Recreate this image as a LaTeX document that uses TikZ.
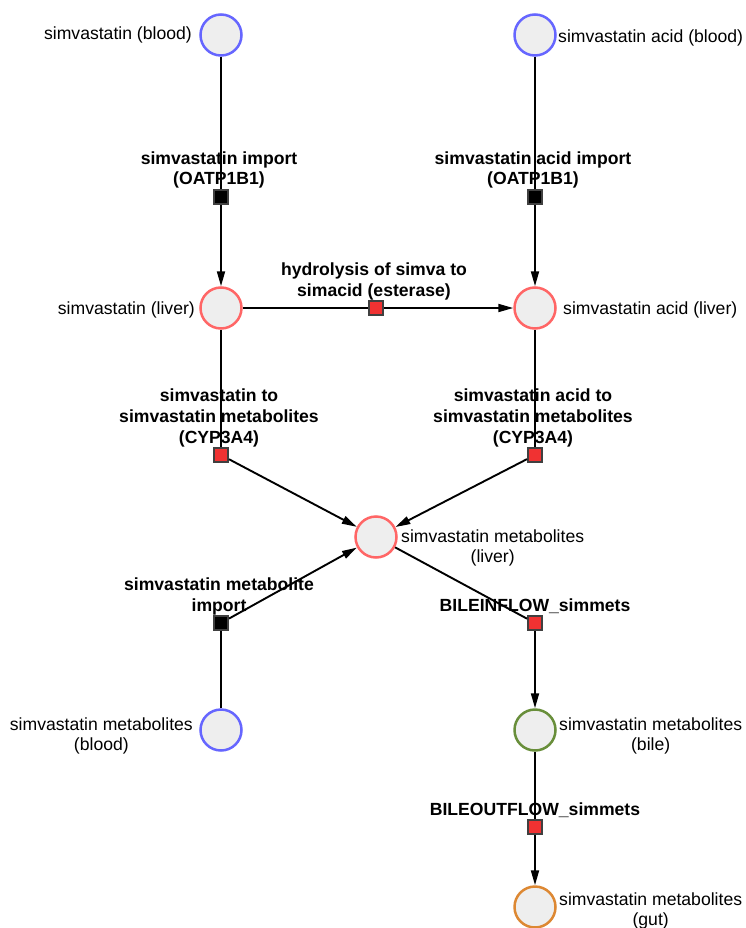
\documentclass[tikz,border=0pt]{standalone}
\usepackage{fontspec}
\setmainfont{Liberation Sans}
\usetikzlibrary{arrows.meta}
\definecolor{cfill}{RGB}{238,238,238}
\definecolor{cblue}{RGB}{102,102,255}
\definecolor{cred}{RGB}{255,102,102}
\definecolor{cgreen}{RGB}{104,142,58}
\definecolor{corange}{RGB}{221,136,51}
\definecolor{cborder}{RGB}{64,64,64}
\definecolor{cred2}{RGB}{240,50,50}
\begin{document}
\begin{tikzpicture}[x=1pt,y=-1pt,
  species/.style={circle, draw, line width=2.5pt, fill=cfill, minimum size=41pt, inner sep=0pt},
  rxn/.style={rectangle, draw=cborder, line width=2pt, minimum size=14pt, inner sep=0pt},
  lbl/.style={font=\fontsize{17.6}{20.8}\selectfont, inner sep=0pt, align=center},
  rlbl/.style={font=\bfseries\fontsize{17.6}{20.8}\selectfont, inner sep=0pt, align=center, anchor=base},
  edge/.style={line width=1.9pt},
  arr/.style={line width=1.9pt, -{Triangle[length=15pt,width=8pt]}}]
\useasboundingbox (0,0) rectangle (746,928);
\fill[white] (0,0) rectangle (746,928);

% species
\node[species, draw=cblue] (sb) at (221,35) {};
\node[species, draw=cblue] (sab) at (535,35) {};
\node[species, draw=cred] (sl) at (221,308) {};
\node[species, draw=cred] (sal) at (535,308) {};
\node[species, draw=cred] (ml) at (376,537) {};
\node[species, draw=cblue] (mb) at (221,730) {};
\node[species, draw=cgreen] (mbile) at (535,730) {};
\node[species, draw=corange] (mgut) at (535,907) {};

% species labels
\node[lbl, anchor=base east] (tsb) at (192,40) {simvastatin (blood)};
\node[lbl, anchor=base west] (tsab) at (558,43) {simvastatin acid (blood)};
\node[lbl, anchor=base east] (tsl) at (195,314) {simvastatin (liver)};
\node[lbl, anchor=base west] (tsal) at (563,314) {simvastatin acid (liver)};
\node[lbl, anchor=base west] (tml) at (401,562.8) {simvastatin metabolites\\(liver)};
\node[lbl, anchor=base east] (tmb) at (193,750.8) {simvastatin metabolites\\(blood)};
\node[lbl, anchor=base west] (tmbile) at (559,750.8) {simvastatin metabolites\\(bile)};
\node[lbl, anchor=base west] (tmgut) at (559,925.8) {simvastatin metabolites\\(gut)};

% reactions
\node[rxn, fill=black] (r1) at (221,197) {};
\node[rxn, fill=black] (r2) at (535,197) {};
\node[rxn, fill=cred2] (r3) at (376,308) {};
\node[rxn, fill=cred2] (r4) at (221,455) {};
\node[rxn, fill=cred2] (r5) at (535,455) {};
\node[rxn, fill=black] (r6) at (221,623) {};
\node[rxn, fill=cred2] (r7) at (535,623) {};
\node[rxn, fill=cred2] (r8) at (535,827) {};

% reaction labels
\node[rlbl] (t1) at (219,185) {simvastatin import\\(OATP1B1)};
\node[rlbl] (t2) at (533,185) {simvastatin acid import\\(OATP1B1)};
\node[rlbl] (t3) at (374,296) {hydrolysis of simva to\\simacid (esterase)};
\node[rlbl] (t4) at (219,443) {simvastatin to\\simvastatin metabolites\\(CYP3A4)};
\node[rlbl] (t5) at (533,443) {simvastatin acid to\\simvastatin metabolites\\(CYP3A4)};
\node[rlbl] (t6) at (219,611) {simvastatin metabolite\\import};
\node[rlbl] (t7) at (535,611) {BILEINFLOW\_simmets};
\node[rlbl] (t8) at (535,815) {BILEOUTFLOW\_simmets};

% connectors
\draw[edge] (sb) -- (r1); \draw[arr] (r1) -- (sl);
\draw[edge] (sab) -- (r2); \draw[arr] (r2) -- (sal);
\draw[edge] (sl) -- (r3); \draw[arr] (r3) -- (sal);
\draw[edge] (sl) -- (r4); \draw[arr] (r4) -- (ml);
\draw[edge] (sal) -- (r5); \draw[arr] (r5) -- (ml);
\draw[edge] (mb) -- (r6); \draw[arr] (r6) -- (ml);
\draw[edge] (ml) -- (r7); \draw[arr] (r7) -- (mbile);
\draw[edge] (mbile) -- (r8); \draw[arr] (r8) -- (mgut);
\end{tikzpicture}
\end{document}
